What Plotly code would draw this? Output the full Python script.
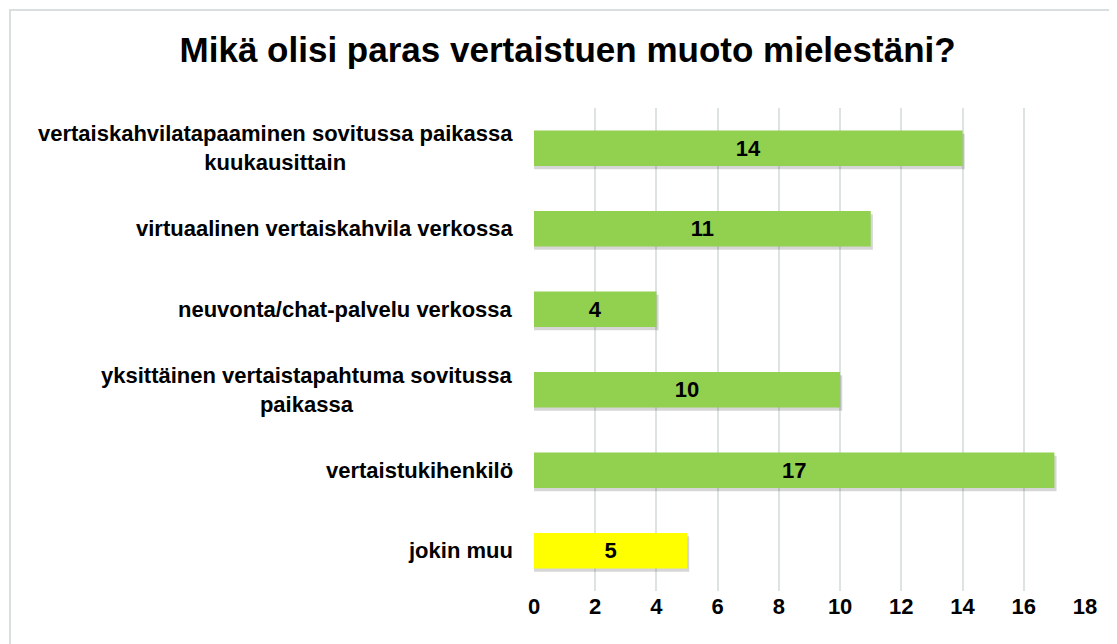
import plotly.graph_objects as go

categories = [
    "vertaiskahvilatapaaminen sovitussa paikassa<br>kuukausittain",
    "virtuaalinen vertaiskahvila verkossa",
    "neuvonta/chat-palvelu verkossa",
    "yksittäinen vertaistapahtuma sovitussa<br>paikassa",
    "vertaistukihenkilö",
    "jokin muu",
]
values = [14, 11, 4, 10, 17, 5]
colors = ["#92D050", "#92D050", "#92D050", "#92D050", "#92D050", "#FFFF00"]
x_ticks = [0, 2, 4, 6, 8, 10, 12, 14, 16, 18]
title = "Mikä olisi paras vertaistuen muoto mielestäni?"

FONT2 = "Liberation Sans, Arial, sans-serif"
BAR_W = 0.44

fig = go.Figure()
# soft drop shadow behind the bars
fig.add_trace(go.Bar(
    y=categories, x=[v + 0.07 for v in values], orientation="h",
    width=BAR_W, offset=-BAR_W / 2 + 0.04,
    marker=dict(color="rgba(0,0,0,0.16)", line=dict(width=0)),
    hoverinfo="skip",
))
fig.add_trace(go.Bar(
    y=categories, x=values, orientation="h",
    width=BAR_W,
    marker=dict(color=colors, line=dict(width=0)),
    text=[str(v) for v in values],
    textposition="inside", insidetextanchor="middle",
    textfont=dict(family=FONT2, size=22, color="#000000", weight="bold"),
    cliponaxis=False,
))

for c in categories:
    fig.add_annotation(
        x=0, xref="paper", y=c, yref="y", xanchor="right", xshift=-19,
        text=c, showarrow=False, align="center",
        font=dict(family=FONT2, size=22, color="#000000", weight="bold"),
    )

fig.add_shape(type="rect", xref="paper", yref="paper",
              x0=-0.951, x1=1.2, y0=-0.5, y1=1.203,
              line=dict(color="#d9dede", width=2), fillcolor="rgba(0,0,0,0)", layer="below")

fig.update_layout(
    width=1117, height=644,
    margin=dict(l=526, r=40, t=100, b=61),
    paper_bgcolor="white", plot_bgcolor="white",
    barmode="overlay",
    showlegend=False,
    title=dict(text=title, x=0.501, xanchor="center", y=0.935, yanchor="middle",
               font=dict(family=FONT2, size=35, color="#000000", weight="bold")),
    xaxis=dict(range=[0, 18], tickvals=x_ticks, showgrid=True, gridcolor="#dde3e3", gridwidth=2,
               zeroline=False, showline=False, ticks="",
               tickfont=dict(family=FONT2, size=22, color="#000000", weight="bold")),
    yaxis=dict(categoryorder="array", categoryarray=categories, autorange="reversed",
               showticklabels=False, showgrid=False, zeroline=False, showline=False),
)

fig.write_html("out.html")
